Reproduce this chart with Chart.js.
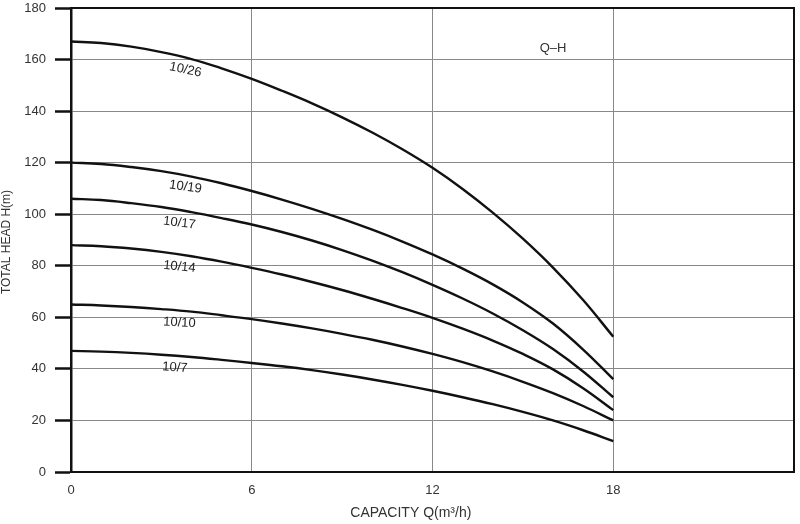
<!DOCTYPE html>
<html>
<head>
<meta charset="utf-8">
<script src="https://cdn.jsdelivr.net/npm/chart.js@4.4.1/dist/chart.umd.min.js"></script>
<style>
  html, body { margin: 0; padding: 0; background: #fff; }
  #wrap { width: 800px; height: 524px; }
</style>
</head>
<body>
<div id="wrap"><canvas id="c" width="800" height="524"></canvas></div>
<script>
// ---- data ----
const capacity = [0,1,2,3,4,5,6,7,8,9,10,11,12,13,14,15,16,17,18];
const head_10_26 = [167,166.4,165,162.9,160.2,156.6,152.5,147.9,143,137.6,131.7,125.2,118,109.8,100.6,90.5,79.3,66.7,52.5];
const head_10_19 = [120,119.5,118.3,116.7,114.6,112,109,105.7,102.1,98.2,94,89.4,84.4,78.9,72.8,65.8,57.6,47.5,36];
const head_10_17 = [106,105.5,104.3,102.8,100.8,98.5,96,93.1,89.8,86.1,82,77.5,72.6,67.3,61.5,55,47.7,39,29];
const head_10_14 = [88,87.6,86.7,85.4,83.7,81.6,79.2,76.6,73.7,70.6,67.2,63.6,59.8,55.6,51,45.8,39.8,32.5,24];
const head_10_10 = [65,64.6,64,63.2,62.2,60.8,59.3,57.6,55.7,53.6,51.3,48.7,45.8,42.6,39,35,30.6,25.6,20];
const head_10_7  = [47,46.7,46.2,45.5,44.6,43.5,42.3,41,39.5,37.8,35.9,33.8,31.5,29,26.3,23.3,20,16.2,12];
const seriesNames = ['10/26','10/19','10/17','10/14','10/10','10/7'];
const xTicks = [0,6,12,18,24];
const yTicks = [0,20,40,60,80,100,120,140,160,180];
// curve-label anchors in data units (capacity, head) and tilt in degrees
const labelAnchors = [[3.8,156],[3.8,110.6],[3.6,96.6],[3.6,79.6],[3.6,57.9],[3.45,40.5]];
const labelTilt = [12,8,7,6,3,4];
const chartTag = 'Q\u2013H';
const chartTagAt = [16.0,164.5];
const xTitle = 'CAPACITY Q(m\u00B3/h)';
const yTitle = 'TOTAL HEAD H(m)';

const allSeries = [head_10_26, head_10_19, head_10_17, head_10_14, head_10_10, head_10_7];

const datasets = allSeries.map((vals, i) => ({
  label: seriesNames[i],
  data: capacity.map((x, j) => ({x: x, y: vals[j]})),
  borderColor: '#111',
  borderWidth: 2.4,
  pointRadius: 0,
  fill: false,
  tension: 0.4
}));

const FONT = "'Liberation Sans', Arial, sans-serif";

const decor = {
  id: 'decor',
  beforeDraw(chart) {
    const ctx = chart.ctx;
    ctx.save();
    ctx.fillStyle = '#fff';
    ctx.fillRect(0, 0, chart.width, chart.height);
    ctx.restore();
  },
  afterDraw(chart) {
    const ctx = chart.ctx;
    const a = chart.chartArea;
    const xs = chart.scales.x, ys = chart.scales.y;
    ctx.save();
    // frame (top & right)
    ctx.strokeStyle = '#111';
    ctx.lineWidth = 2;
    ctx.beginPath();
    ctx.moveTo(a.left, a.top);
    ctx.lineTo(a.right, a.top);
    ctx.lineTo(a.right, a.bottom);
    ctx.stroke();
    // curve labels
    ctx.fillStyle = '#222';
    ctx.font = "13px " + FONT;
    ctx.textAlign = 'center';
    ctx.textBaseline = 'middle';
    seriesNames.forEach((n, i) => {
      const px = xs.getPixelForValue(labelAnchors[i][0]);
      const py = ys.getPixelForValue(labelAnchors[i][1]);
      ctx.save();
      ctx.translate(px, py);
      ctx.rotate(labelTilt[i] * Math.PI / 180);
      ctx.fillText(n, 0, 0);
      ctx.restore();
    });
    // Q-H tag
    ctx.fillStyle = '#333';
    ctx.fillText(chartTag, xs.getPixelForValue(chartTagAt[0]), ys.getPixelForValue(chartTagAt[1]));
    // axis titles
    ctx.font = "14px " + FONT;
    ctx.fillText(xTitle, a.left + (a.right - a.left) * 0.47, a.bottom + 41);
    ctx.font = "12px " + FONT;
    ctx.translate(7, (a.top + a.bottom) / 2 + 2);
    ctx.rotate(-Math.PI / 2);
    ctx.fillText(yTitle, 0, 0);
    ctx.restore();
  }
};

new Chart(document.getElementById('c'), {
  type: 'line',
  data: { datasets },
  options: {
    responsive: false,
    devicePixelRatio: 1,
    animation: false,
    layout: { padding: { top: 8, right: 6, left: 0, bottom: 0 } },
    plugins: { legend: { display: false }, tooltip: { enabled: false } },
    scales: {
      x: {
        type: 'linear',
        min: 0, max: 24,
        afterBuildTicks(scale) { scale.ticks = xTicks.map(v => ({value: v})); },
        afterFit(scale) { scale.height = 52; scale.paddingLeft = 0; scale.paddingRight = 0; },
        ticks: {
          color: '#333',
          font: { family: FONT, size: 13 },
          padding: 11,
          maxRotation: 0,
          callback: v => (v === 24 ? '' : v)
        },
        grid: { color: '#888', lineWidth: 1, drawTicks: false },
        border: { color: '#111', width: 2 }
      },
      y: {
        type: 'linear',
        min: 0, max: 180,
        afterBuildTicks(scale) { scale.ticks = yTicks.map(v => ({value: v})); },
        afterFit(scale) { scale.width = 71; scale.paddingTop = 0; scale.paddingBottom = 0; },
        ticks: {
          color: '#333',
          font: { family: FONT, size: 13 },
          padding: 9
        },
        grid: { color: '#888', lineWidth: 1, drawTicks: true, tickLength: 16, tickColor: '#111', tickWidth: 2.5 },
        border: { color: '#111', width: 2.5 }
      }
    }
  },
  plugins: [decor]
});
</script>
</body>
</html>
